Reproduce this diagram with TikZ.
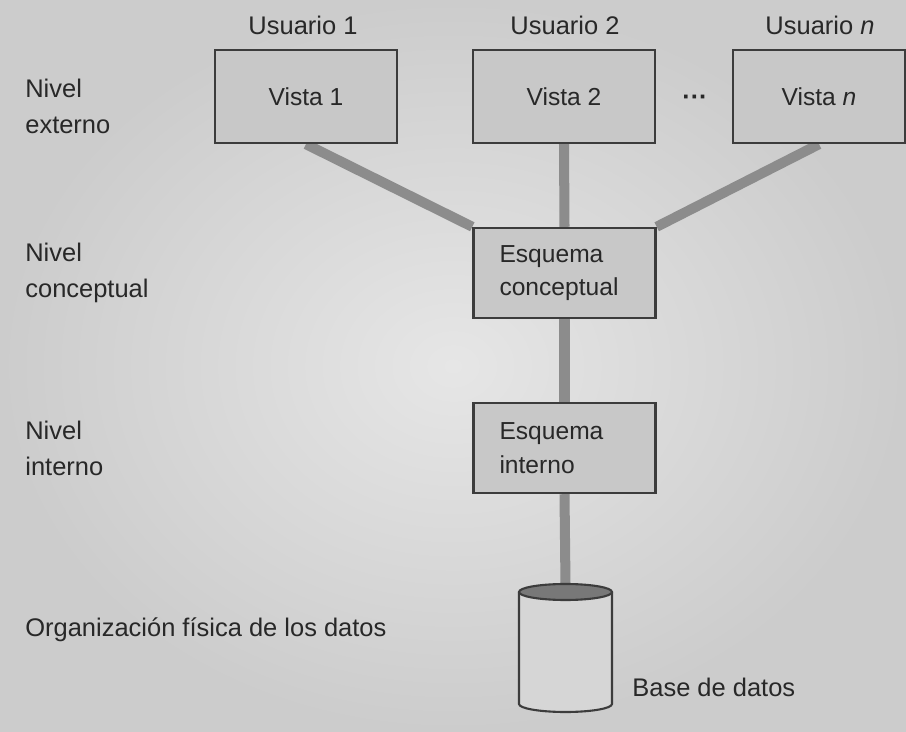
\documentclass[tikz,border=0pt]{standalone}
\usepackage{fontspec}
\setmainfont{Liberation Sans}
\usetikzlibrary{backgrounds}
\definecolor{fondoclaro}{RGB}{230,230,230}
\definecolor{fondooscuro}{RGB}{204,204,204}
\definecolor{cajagris}{RGB}{200,200,200}
\definecolor{borde}{RGB}{60,60,60}
\definecolor{lineagris}{RGB}{140,140,140}
\definecolor{texto}{RGB}{40,40,40}
\definecolor{tapa}{RGB}{120,120,120}
\definecolor{cuerpo}{RGB}{214,214,214}

\tikzset{
  caja/.style={draw=borde, line width=1.4pt, fill=cajagris, text=texto, minimum width=3.64cm, minimum height=1.86cm, inner sep=0pt, font=\fontsize{14}{19}\selectfont},
  cajaizq/.style={caja, minimum height=1.8cm, text width=2.6cm, inner xsep=0.52cm, align=left},
  etiqueta/.style={text=texto, inner sep=0pt, anchor=west, align=left, font=\fontsize{14.5}{20.5}\selectfont},
  titulo/.style={text=texto, inner sep=0pt, font=\fontsize{14.5}{17}\selectfont},
  enlace/.style={draw=lineagris, line width=5.7pt}
}

\begin{document}
\begin{tikzpicture}[x=0.02cm, y=-0.02cm]
\useasboundingbox (0,0) rectangle (906,732);
\node[titulo] (usuario1) at (303,25) {Usuario 1};
\node[titulo] (usuario2) at (565,25) {Usuario 2};
\node[titulo] (usuarion) at (820,25) {Usuario \textit{n}};
\node[caja] (vista1) at (306,96.5) {Vista 1};
\node[caja] (vista2) at (564,96.5) {Vista 2};
\node[caja, minimum width=3.44cm] (vistan) at (819,96.5) {Vista \textit{n}};
\node[titulo] (puntos) at (695,100) {\textbf{···}};
\node[cajaizq] (esqconc) at (564.5,273) {Esquema\\conceptual};
\node[cajaizq] (esqint) at (564.5,448) {Esquema\\interno};
\node[etiqueta] (nivext) at (25,106) {Nivel\\externo};
\node[etiqueta] (nivconc) at (25,273) {Nivel\\conceptual};
\node[etiqueta] (nivint) at (25,448) {Nivel\\interno};
\node[etiqueta] (orgfis) at (25,630) {Organización física de los datos};
\node[etiqueta] (basedatos) at (632,687) {Base de datos};
\draw[borde, line width=1.2pt, fill=cuerpo] (519,592) -- (519,704) arc[start angle=180, end angle=0, x radius=46.5, y radius=8] -- (612,592);
\draw[borde, line width=1.2pt, fill=tapa] (565.5,592) ellipse[x radius=46.5, y radius=8];
\coordinate (bdtapa) at (565.5,585);
\begin{scope}[on background layer]
\shade[inner color=fondoclaro, outer color=fondooscuro] (0,0) rectangle (906,732);
\draw[enlace] (vista1.south) -- (esqconc.north west);
\draw[enlace] (vista2.south) -- (esqconc.north);
\draw[enlace] (vistan.south) -- (esqconc.north east);
\draw[enlace] (esqconc.south) -- (esqint.north);
\draw[enlace] (esqint.south) -- (bdtapa);
\end{scope}
\end{tikzpicture}
\end{document}
